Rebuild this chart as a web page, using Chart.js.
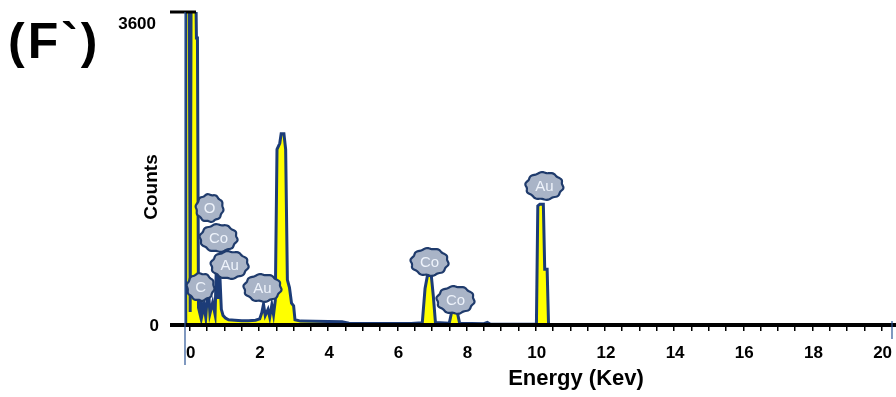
<!DOCTYPE html>
<html>
<head>
<meta charset="utf-8">
<script src="https://cdn.jsdelivr.net/npm/chart.js@4.4.0/dist/chart.umd.min.js"></script>
<style>
  html, body { margin: 0; padding: 0; background: #fff; }
  #wrap { width: 896px; height: 397px; }
</style>
</head>
<body>
<div id="wrap"><canvas id="edsChart" width="896" height="397"></canvas></div>
<script>
// EDS spectrum, energy in keV and counts
const energy = [
  -0.14, -0.12, -0.02, 0.01, 0.04, 0.16, 0.19, 0.22, 0.25, 0.28,
  0.31, 0.35, 0.41, 0.46, 0.53, 0.58, 0.66, 0.73, 0.77, 0.81,
  0.86, 0.91, 0.96, 1.03, 1.12, 1.3, 1.5, 1.7, 1.9, 2.02,
  2.08, 2.13, 2.18, 2.26, 2.31, 2.37, 2.42, 2.47, 2.52, 2.6,
  2.64, 2.72, 2.77, 2.82, 2.88, 2.94, 3.0, 3.04, 3.2, 3.6,
  4.0, 4.4, 4.6, 5.2, 5.8, 6.4, 6.72, 6.8, 6.87, 6.98,
  7.04, 7.1, 7.5, 7.58, 7.72, 7.8, 8.5, 8.6, 8.68, 9.9,
  10.02, 10.06, 10.12, 10.22, 10.26, 10.33, 10.37, 11, 20.3
];
const counts = [
  0, 4300, 4300, 150, 4300, 4300, 3300, 3300, 200, 150,
  520, 110, 230, 90, 470, 130, 260, 120, 720, 300,
  640, 180, 110, 80, 60, 55, 50, 50, 55, 70,
  140, 240, 110, 180, 90, 230, 120, 280, 2020, 2090,
  2200, 2200, 2020, 520, 430, 250, 220, 60, 45, 42,
  40, 38, 20, 18, 16, 18, 25, 420, 570, 570,
  330, 30, 20, 170, 170, 20, 15, 30, 10, 8,
  10, 1370, 1390, 1390, 640, 640, 10, 5, 0
];

// peak markers
const markText = ['O', 'Co', 'Au', 'C', 'Au', 'Co', 'Co', 'Au'];
const markEnergy = [0.57, 0.83, 1.15, 0.31, 2.1, 6.93, 7.68, 10.25];
const markCounts = [1345, 1000, 690, 437, 426, 725, 288, 1599];

const xTicks = [];
for (let v = 0; v <= 20; v += 0.5) xTicks.push(v);
const yLabels = [0, 3600];

const FONT = '"Liberation Sans", Arial, sans-serif';

function bubble(ctx, cx, cy, w, h) {
  ctx.beginPath();
  const n = 96;
  for (let i = 0; i <= n; i++) {
    const a = (i / n) * Math.PI * 2;
    const k = 1 + 0.04 * Math.sin(a * 10);
    const x = cx + Math.cos(a) * (w / 2) * k;
    const y = cy + Math.sin(a) * (h / 2) * k;
    if (i === 0) ctx.moveTo(x, y); else ctx.lineTo(x, y);
  }
  ctx.closePath();
  ctx.fillStyle = '#a9b4c7';
  ctx.fill();
  ctx.lineWidth = 2.2;
  ctx.strokeStyle = '#1f3b6c';
  ctx.stroke();
}

const decorations = {
  id: 'decorations',
  afterDatasetsDraw(chart) {
    const { ctx, chartArea, scales } = chart;
    const xs = scales.x, ys = scales.y;
    const y0 = ys.getPixelForValue(0);
    ctx.save();

    // thick baseline and top cap
    ctx.fillStyle = '#000';
    ctx.fillRect(170, y0 - 2, chart.width - 170, 4);
    ctx.fillRect(170, chartArea.top - 1.5, 26, 3);

    // thin blue frame lines
    ctx.strokeStyle = '#2c5596';
    ctx.lineWidth = 1.2;
    ctx.beginPath();
    ctx.moveTo(chartArea.left, chartArea.top);
    ctx.lineTo(chartArea.left, y0 + 40);
    ctx.moveTo(chartArea.right, y0 - 4);
    ctx.lineTo(chartArea.right, y0 + 14);
    ctx.stroke();

    // peak markers
    markText.forEach((t, i) => {
      const cx = xs.getPixelForValue(markEnergy[i]);
      const cy = ys.getPixelForValue(markCounts[i]);
      const w = t.length > 1 ? 37 : 27;
      bubble(ctx, cx, cy, w, 27);
      ctx.fillStyle = '#eef3fb';
      ctx.font = '15px ' + FONT;
      ctx.textAlign = 'center';
      ctx.textBaseline = 'middle';
      ctx.fillText(t, cx, cy + 1);
    });

    // x tick labels, every 2 keV
    ctx.fillStyle = '#000';
    ctx.font = 'bold 17px ' + FONT;
    ctx.textAlign = 'center';
    ctx.textBaseline = 'middle';
    xTicks.filter(v => v % 2 === 0).forEach(v => {
      ctx.fillText(String(v), xs.getPixelForValue(v) + 1, y0 + 28);
    });

    // y labels
    ctx.textAlign = 'right';
    ctx.fillText(String(yLabels[1]), 156, ys.getPixelForValue(yLabels[1]) + 12);
    ctx.fillText(String(yLabels[0]), 159, ys.getPixelForValue(yLabels[0]) + 1);

    // axis titles
    ctx.font = 'bold 19px ' + FONT;
    ctx.textAlign = 'center';
    ctx.save();
    ctx.translate(152, 187);
    ctx.rotate(-Math.PI / 2);
    ctx.fillText('Counts', 0, 0);
    ctx.restore();
    ctx.font = 'bold 22px ' + FONT;
    ctx.fillText('Energy (Kev)', 576, 379);

    // panel label
    ctx.font = 'bold 50px ' + FONT;
    ctx.letterSpacing = '3px';
    ctx.textAlign = 'left';
    ctx.textBaseline = 'alphabetic';
    ctx.fillText('(F`)', 8, 58);
    ctx.restore();
  }
};

const ctx = document.getElementById('edsChart').getContext('2d');
const edsChart = new Chart(ctx, {
  type: 'line',
  data: {
    datasets: [{
      data: energy.map((e, i) => ({ x: e, y: counts[i] })),
      fill: 'origin',
      backgroundColor: '#ffff00',
      borderColor: '#1c3c78',
      borderWidth: 3,
      pointRadius: 0,
      tension: 0
    }]
  },
  options: {
    responsive: false,
    animation: false,
    devicePixelRatio: 1,
    layout: { padding: { left: 185, right: 4, top: 12, bottom: 66 } },
    plugins: { legend: { display: false }, tooltip: { enabled: false } },
    scales: {
      x: {
        type: 'linear',
        min: -0.14,
        max: 20.3,
        afterBuildTicks: (axis) => { axis.ticks = xTicks.map(v => ({ value: v })); },
        border: { display: false },
        grid: { drawOnChartArea: false, drawTicks: true, tickLength: 6, color: '#000', lineWidth: 1.5 },
        ticks: { display: false }
      },
      y: { display: false, min: 0, max: 3600 }
    }
  },
  plugins: [decorations]
});
</script>
</body>
</html>
